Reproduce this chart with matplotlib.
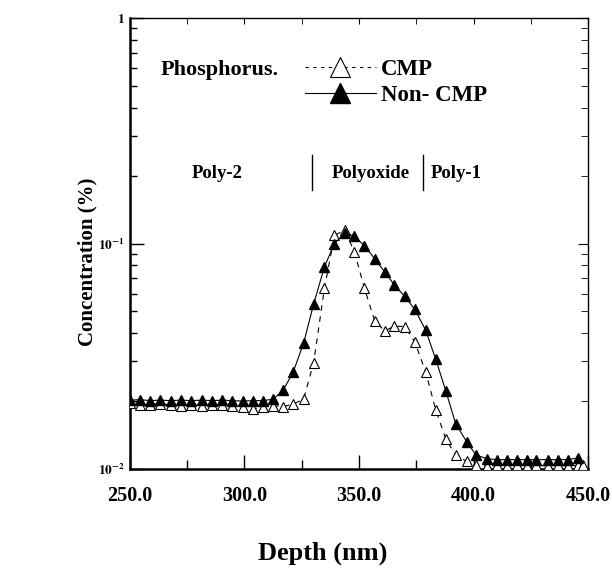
import matplotlib
matplotlib.use("Agg")
import matplotlib.pyplot as plt
from matplotlib.lines import Line2D
from matplotlib.ticker import LogLocator, NullFormatter, FixedLocator

plt.rcParams['font.family'] = ['Liberation Serif', 'DejaVu Serif']
plt.rcParams['font.weight'] = 'bold'
plt.rcParams['mathtext.fontset'] = 'stix'

# ---- data ----
depth = [250.0, 254.4, 258.8, 263.1, 267.9, 272.3, 276.7, 281.5, 285.9, 290.3,
         294.6, 299.3, 303.7, 308.1, 312.5, 316.8, 321.2, 325.8, 330.2, 334.9,
         339.3, 343.7, 348.0, 352.4, 356.8, 361.2, 365.5, 369.9, 374.3, 379.1,
         383.5, 387.9, 392.2, 397.0, 401.0, 405.8, 410.2, 414.6, 418.9, 423.3,
         427.2, 432.5, 436.9, 441.2, 445.6]
noncmp = [0.0202, 0.0203, 0.0201, 0.0202, 0.0201, 0.0202, 0.0201, 0.0202, 0.0201, 0.0202,
          0.0201, 0.0200, 0.0201, 0.0201, 0.0204, 0.0223, 0.0268, 0.0361, 0.0539, 0.0788,
          0.100, 0.1114, 0.1077, 0.0976, 0.0858, 0.0749, 0.0654, 0.0584, 0.0511, 0.0413,
          0.0307, 0.0222, 0.0159, 0.0132, 0.01156, 0.0111, 0.0110, 0.0110, 0.0110, 0.0110,
          0.0110, 0.0110, 0.0110, 0.0110, 0.0112]
cmp_depth = depth + [447.8]
cmp = [0.0196, 0.0192, 0.0193, 0.0195, 0.0192, 0.0191, 0.0193, 0.0191, 0.0192, 0.0193,
       0.0190, 0.0189, 0.0184, 0.0189, 0.0191, 0.0189, 0.0194, 0.0204, 0.0296, 0.0632,
       0.1088, 0.1145, 0.0919, 0.0632, 0.0455, 0.0410, 0.0430, 0.0428, 0.0367, 0.0270,
       0.0183, 0.0136, 0.01153, 0.0108, 0.0104, 0.0103, 0.0104, 0.0103, 0.0104, 0.0103,
       0.0104, 0.0103, 0.0104, 0.0103, 0.0104, 0.0104]

x_ticks = [250, 300, 350, 400, 450]
x_ticklabels = ['250.0', '300.0', '350.0', '400.0', '450.0']
y_ticks = [0.01, 0.1, 1]
y_ticklabels = [r'$\mathbf{10^{-2}}$', r'$\mathbf{10^{-1}}$', r'$\mathbf{1}$']
region_labels = ['Poly-2', 'Polyoxide', 'Poly-1']
region_x = [288.0, 355.0, 392.6]
region_bounds = [329.5, 378.1]

fig = plt.figure(figsize=(6.12, 5.70), dpi=100)
ax = fig.add_axes([0.2124, 0.1772, 0.7484, 0.7912])

ax.plot(cmp_depth, cmp, ls=(0, (5, 5)), color='black', lw=0.8,
        marker='^', ms=7, mfc='white', mec='black', mew=0.8, zorder=3)
ax.plot(depth, noncmp, ls='-', color='black', lw=0.8,
        marker='^', ms=7, mfc='black', mec='black', zorder=4)

ax.set_yscale('log')
ax.set_xlim(250, 450)
ax.set_ylim(0.01, 1)

ax.set_xticks(x_ticks)
ax.set_xticklabels(x_ticklabels, fontsize=14.5, fontweight='bold')
ax.xaxis.set_minor_locator(FixedLocator([275, 325, 375, 425]))
ax.set_yticks(y_ticks)
ax.set_yticklabels(y_ticklabels, fontsize=9.5)
ax.yaxis.set_minor_locator(LogLocator(base=10, subs=range(2, 10)))
ax.yaxis.set_minor_formatter(NullFormatter())

ax.tick_params(axis='x', which='major', direction='in', length=10, width=1.0, pad=12)
ax.tick_params(axis='x', which='minor', direction='in', length=6.5, width=1.0)
ax.tick_params(axis='y', which='major', direction='in', length=10, width=1.0, pad=4)
ax.tick_params(axis='y', which='minor', direction='in', length=5, width=1.0)

for side in ['left', 'bottom']:
    ax.spines[side].set_linewidth(1.8)
for side in ['top', 'right']:
    ax.spines[side].set_linewidth(1.0)

# top and right ticks (shorter)
secx = ax.secondary_xaxis('top')
secx.set_xticks(x_ticks)
secx.xaxis.set_minor_locator(FixedLocator([275, 325, 375, 425]))
secx.tick_params(axis='x', which='both', direction='in', length=4, labeltop=False)
secx.spines['top'].set_visible(False)
secy = ax.secondary_yaxis('right')
secy.set_yticks(y_ticks)
secy.yaxis.set_minor_locator(LogLocator(base=10, subs=range(2, 10)))
secy.yaxis.set_minor_formatter(NullFormatter())
secy.tick_params(axis='y', which='major', direction='in', length=7, labelright=False)
secy.tick_params(axis='y', which='minor', direction='in', length=5, labelright=False)
secy.spines['right'].set_visible(False)

ax.set_xlabel('Depth (nm)', fontsize=19, fontweight='bold')
ax.xaxis.set_label_coords(0.421, -0.162)
ax.set_ylabel('Concentration (%)', fontsize=15, fontweight='bold')
ax.yaxis.set_label_coords(-0.070, 0.459)

ax.text(0.066, 0.885, 'Phosphorus.', transform=ax.transAxes, fontsize=16,
        fontweight='bold', ha='left', va='center')

handles = [
    Line2D([], [], ls=(0, (3, 4)), color='black', lw=0.8, marker='^', ms=14,
           mfc='white', mec='black', mew=0.8),
    Line2D([], [], ls='-', color='black', lw=0.8, marker='^', ms=14,
           mfc='black', mec='black'),
]
ax.legend(handles, ['CMP', 'Non- CMP'], loc='upper left',
          bbox_to_anchor=(0.382, 0.91), frameon=False,
          handlelength=3.1, handletextpad=0.2, labelspacing=0.25,
          borderpad=0, borderaxespad=0, prop={'weight': 'bold', 'size': 16.5})

for lab, xc in zip(region_labels, region_x):
    ax.text(xc, 0.205, lab, fontsize=13.5, fontweight='bold', ha='center', va='center')
for xb in region_bounds:
    ax.plot([xb, xb], [0.172, 0.246], color='black', lw=1.0)

fig.savefig('out.png', dpi=100)
